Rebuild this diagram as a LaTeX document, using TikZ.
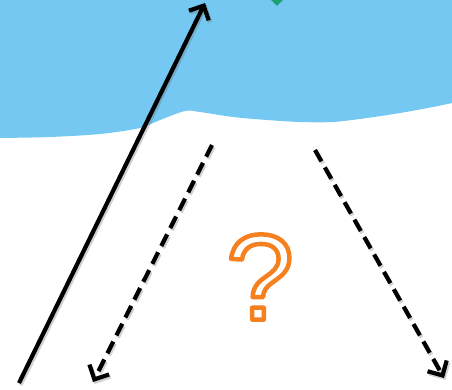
\documentclass[tikz,border=0pt]{standalone}
\usepackage{fontspec}
\setmainfont{Liberation Sans}
\usetikzlibrary{arrows.meta,shapes.geometric}
\definecolor{skyblue}{HTML}{74C8F2}
\definecolor{teal}{HTML}{1E9E73}
\definecolor{qorange}{HTML}{F5801F}
\newcommand{\outlinetext}[2]{\special{pdf:code #1 w 1 j 1 J 1 Tr}#2\special{pdf:code 0 Tr 1 w 0 j 0 J}}
\tikzset{
  arrowline/.style={line width=4.2pt, -{Straight Barb[length=11pt,width=22pt]}},
  dashline/.style={arrowline, dash pattern=on 13pt off 7pt},
  shadowline/.style={draw=black!60, opacity=0.3, transform canvas={shift={(1.5pt,-2pt)}}},
}
\begin{document}
\begin{tikzpicture}[x=1pt,y=-1pt]
\useasboundingbox (0,0) rectangle (452,389);
\clip (0,0) rectangle (452,389);
% blue area
\fill[skyblue] (0,-5) -- plot[smooth] coordinates {(0,138) (50,137) (100,134) (140,128) (160,120) (185,111) (200,112) (233,117) (267,120) (300,122) (333,122) (367,118) (400,113) (433,107) (452,103)} -- (452,-5) -- cycle;
% green diamond
\node[diamond, fill=teal, minimum width=20pt, minimum height=20pt, inner sep=0pt] (gd) at (277,-4) {};
% coordinates
\coordinate (s1) at (19,383);
\coordinate (e1) at (205,3);
\coordinate (s2) at (212,145);
\coordinate (e2) at (93,382);
\coordinate (s3) at (315,150);
\coordinate (e3) at (444,378);
% shadows
\draw[arrowline, shadowline] (s1) -- (e1);
\draw[dashline, shadowline] (s2) -- (e2);
\draw[dashline, shadowline] (s3) -- (e3);
% arrows
\draw[arrowline] (s1) -- (e1);
\draw[dashline] (s2) -- (e2);
\draw[dashline] (s3) -- (e3);
% question mark
\node[text=qorange, font=\fontsize{122}{122}\selectfont] (q) at (260,277) {\outlinetext{4.5}{?}};
\end{tikzpicture}
\end{document}
